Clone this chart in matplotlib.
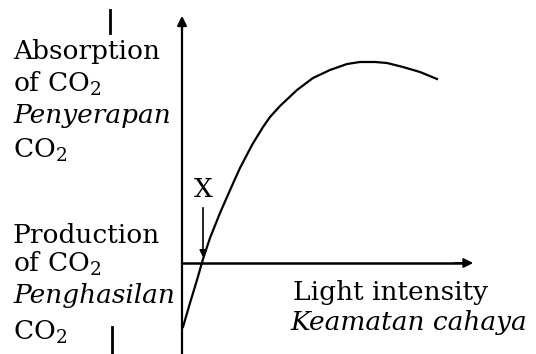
import matplotlib.pyplot as plt

plt.rcParams['font.family'] = 'DejaVu Serif'
plt.rcParams['mathtext.fontset'] = 'dejavuserif'

# net CO2 exchange against light intensity (origin at the axes crossing)
light = [1, 8, 15, 21, 28, 38, 45, 53, 58, 70, 81, 88, 98, 115, 131,
         148, 165, 178, 193, 205, 221, 238, 255]
co2 = [-64, -40, -17, 4, 25, 50, 66, 84, 95, 118, 136, 146, 157, 173,
       185, 193, 199, 201, 201, 200, 196, 191, 184]

x_mark = 21
fs = 19

fig = plt.figure(figsize=(5.36, 3.54), dpi=100)
ax = fig.add_axes([0, 0, 1, 1])
ax.set_xlim(-182, 354)
ax.set_ylim(-91, 263)
ax.axis('off')

# axes with arrow heads
ax.plot([0, 0], [-91, 240], color='black', lw=1.6)
ax.annotate('', xy=(0, 250), xytext=(0, 230),
            arrowprops=dict(arrowstyle='-|>', color='black', lw=1.6,
                            mutation_scale=14))
ax.plot([0, 280], [0, 0], color='black', lw=1.8)
ax.annotate('', xy=(294, 0), xytext=(270, 0),
            arrowprops=dict(arrowstyle='-|>', color='black', lw=1.4,
                            mutation_scale=14))

# curve
ax.plot(light, co2, color='black', lw=1.6, solid_joinstyle='round')

# compensation point
ax.annotate('', xy=(x_mark, 3), xytext=(x_mark, 58),
            arrowprops=dict(arrowstyle='-|>', color='black', lw=1.2,
                            mutation_scale=10))
ax.text(x_mark, 66, 'X', ha='center', va='baseline', fontsize=fs)

# small direction marks on the left
ax.plot([-72, -72], [230, 253], color='black', lw=2)
ax.plot([-70, -70], [-91, -64], color='black', lw=2)

# y labels
ax.text(-169, 204, 'Absorption', fontsize=fs, va='baseline')
ax.text(-169, 171, 'of CO$_2$', fontsize=fs, va='baseline')
ax.text(-169, 140, 'Penyerapan', fontsize=fs, va='baseline', style='italic')
ax.text(-169, 105, 'CO$_2$', fontsize=fs, va='baseline')
ax.text(-169, 20, 'Production', fontsize=fs, va='baseline')
ax.text(-169, -9, 'of CO$_2$', fontsize=fs, va='baseline')
ax.text(-169, -40, 'Penghasilan', fontsize=fs, va='baseline', style='italic')
ax.text(-169, -77, 'CO$_2$', fontsize=fs, va='baseline')

# x label
ax.text(111, -37, 'Light intensity', fontsize=fs, va='baseline')
ax.text(108, -67, 'Keamatan cahaya', fontsize=fs, va='baseline', style='italic')

fig.savefig('out.png', dpi=100)
